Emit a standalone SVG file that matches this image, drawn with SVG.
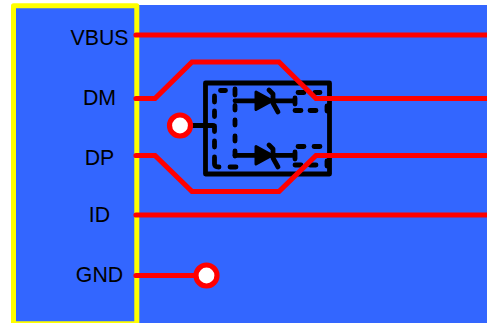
<svg xmlns="http://www.w3.org/2000/svg" width="487" height="323" viewBox="0 0 487 323">
<style>
.lbl{font-family:"Liberation Sans",Arial,sans-serif;font-size:21.300px;fill:#000;text-anchor:middle}
.r{fill:none;stroke:#f00;stroke-width:5.200;stroke-linecap:round;stroke-linejoin:miter}
.k{fill:none;stroke:#000;stroke-width:4.800;stroke-linecap:round;stroke-linejoin:round}
.d{fill:none;stroke:#000;stroke-width:4.800;stroke-linecap:round}
.pad{fill:#fff;stroke:#f00;stroke-width:5.200}
</style>
<rect x="13" y="5" width="474" height="318" fill="#3366ff"/>
<g id="connector-body">
<rect x="13.500" y="5.800" width="123.300" height="318" fill="#3366ff" stroke="#ffff00" stroke-width="5" stroke-linejoin="round"/>
<text class="lbl" x="99.500" y="44.800">VBUS</text>
<text class="lbl" x="99.500" y="105">DM</text>
<text class="lbl" x="99.500" y="165">DP</text>
<text class="lbl" x="99.500" y="222">ID</text>
<text class="lbl" x="99.500" y="282">GND</text>
</g>
<g id="esd-device">
<rect x="205.500" y="83" width="124" height="91" class="k"/>
<path class="k" d="M192 125.500H213"/>
<path class="d" d="M220.500 90.500H225.500M214.500 96V102M214.500 111V116.500M214.500 126V131.500M214.500 141V147M214.500 157V164Q214.500 167 219 167M230 167H236M235 89V95M235 105.500V110M235 120V125M235 136V141M235 151V156"/>
<path class="k" d="M235 100.800H295M295 98V104"/>
<path d="M256 92L272 100.800L256 109.500Z" fill="#000" stroke="#000" stroke-width="3" stroke-linejoin="round"/>
<path class="k" d="M269 90L273 94V103L278 112"/>
<path class="d" d="M298 92.500H304M315 92.500H320M295 110.500H301M310 110.500H316M327 106V111"/>
<path class="k" d="M235 155.300H295M295 152V159"/>
<path d="M256 146.500L272 155.300L256 164Z" fill="#000" stroke="#000" stroke-width="3" stroke-linejoin="round"/>
<path class="k" d="M269 145L273 149V158L278 167"/>
<path class="d" d="M298 146.500H304M314 146.500H320M295 165H301M310 165H316M327 161V166"/>
</g>
<g id="connectors">
<path class="r" d="M136 35H487"/>
<path class="r" d="M136 98.500H155L192 62H279L316 98.500H487"/>
<path class="r" d="M136 155.500H155L192 191.500H279L316 155.500H487"/>
<path class="r" d="M136 215H487"/>
<path class="r" d="M136 275.500H195"/>
</g>
<g id="pad-dm"><circle class="pad" cx="180" cy="125.500" r="10.500"/></g>
<g id="pad-gnd"><circle class="pad" cx="206.500" cy="275.500" r="10.500"/></g>
</svg>
